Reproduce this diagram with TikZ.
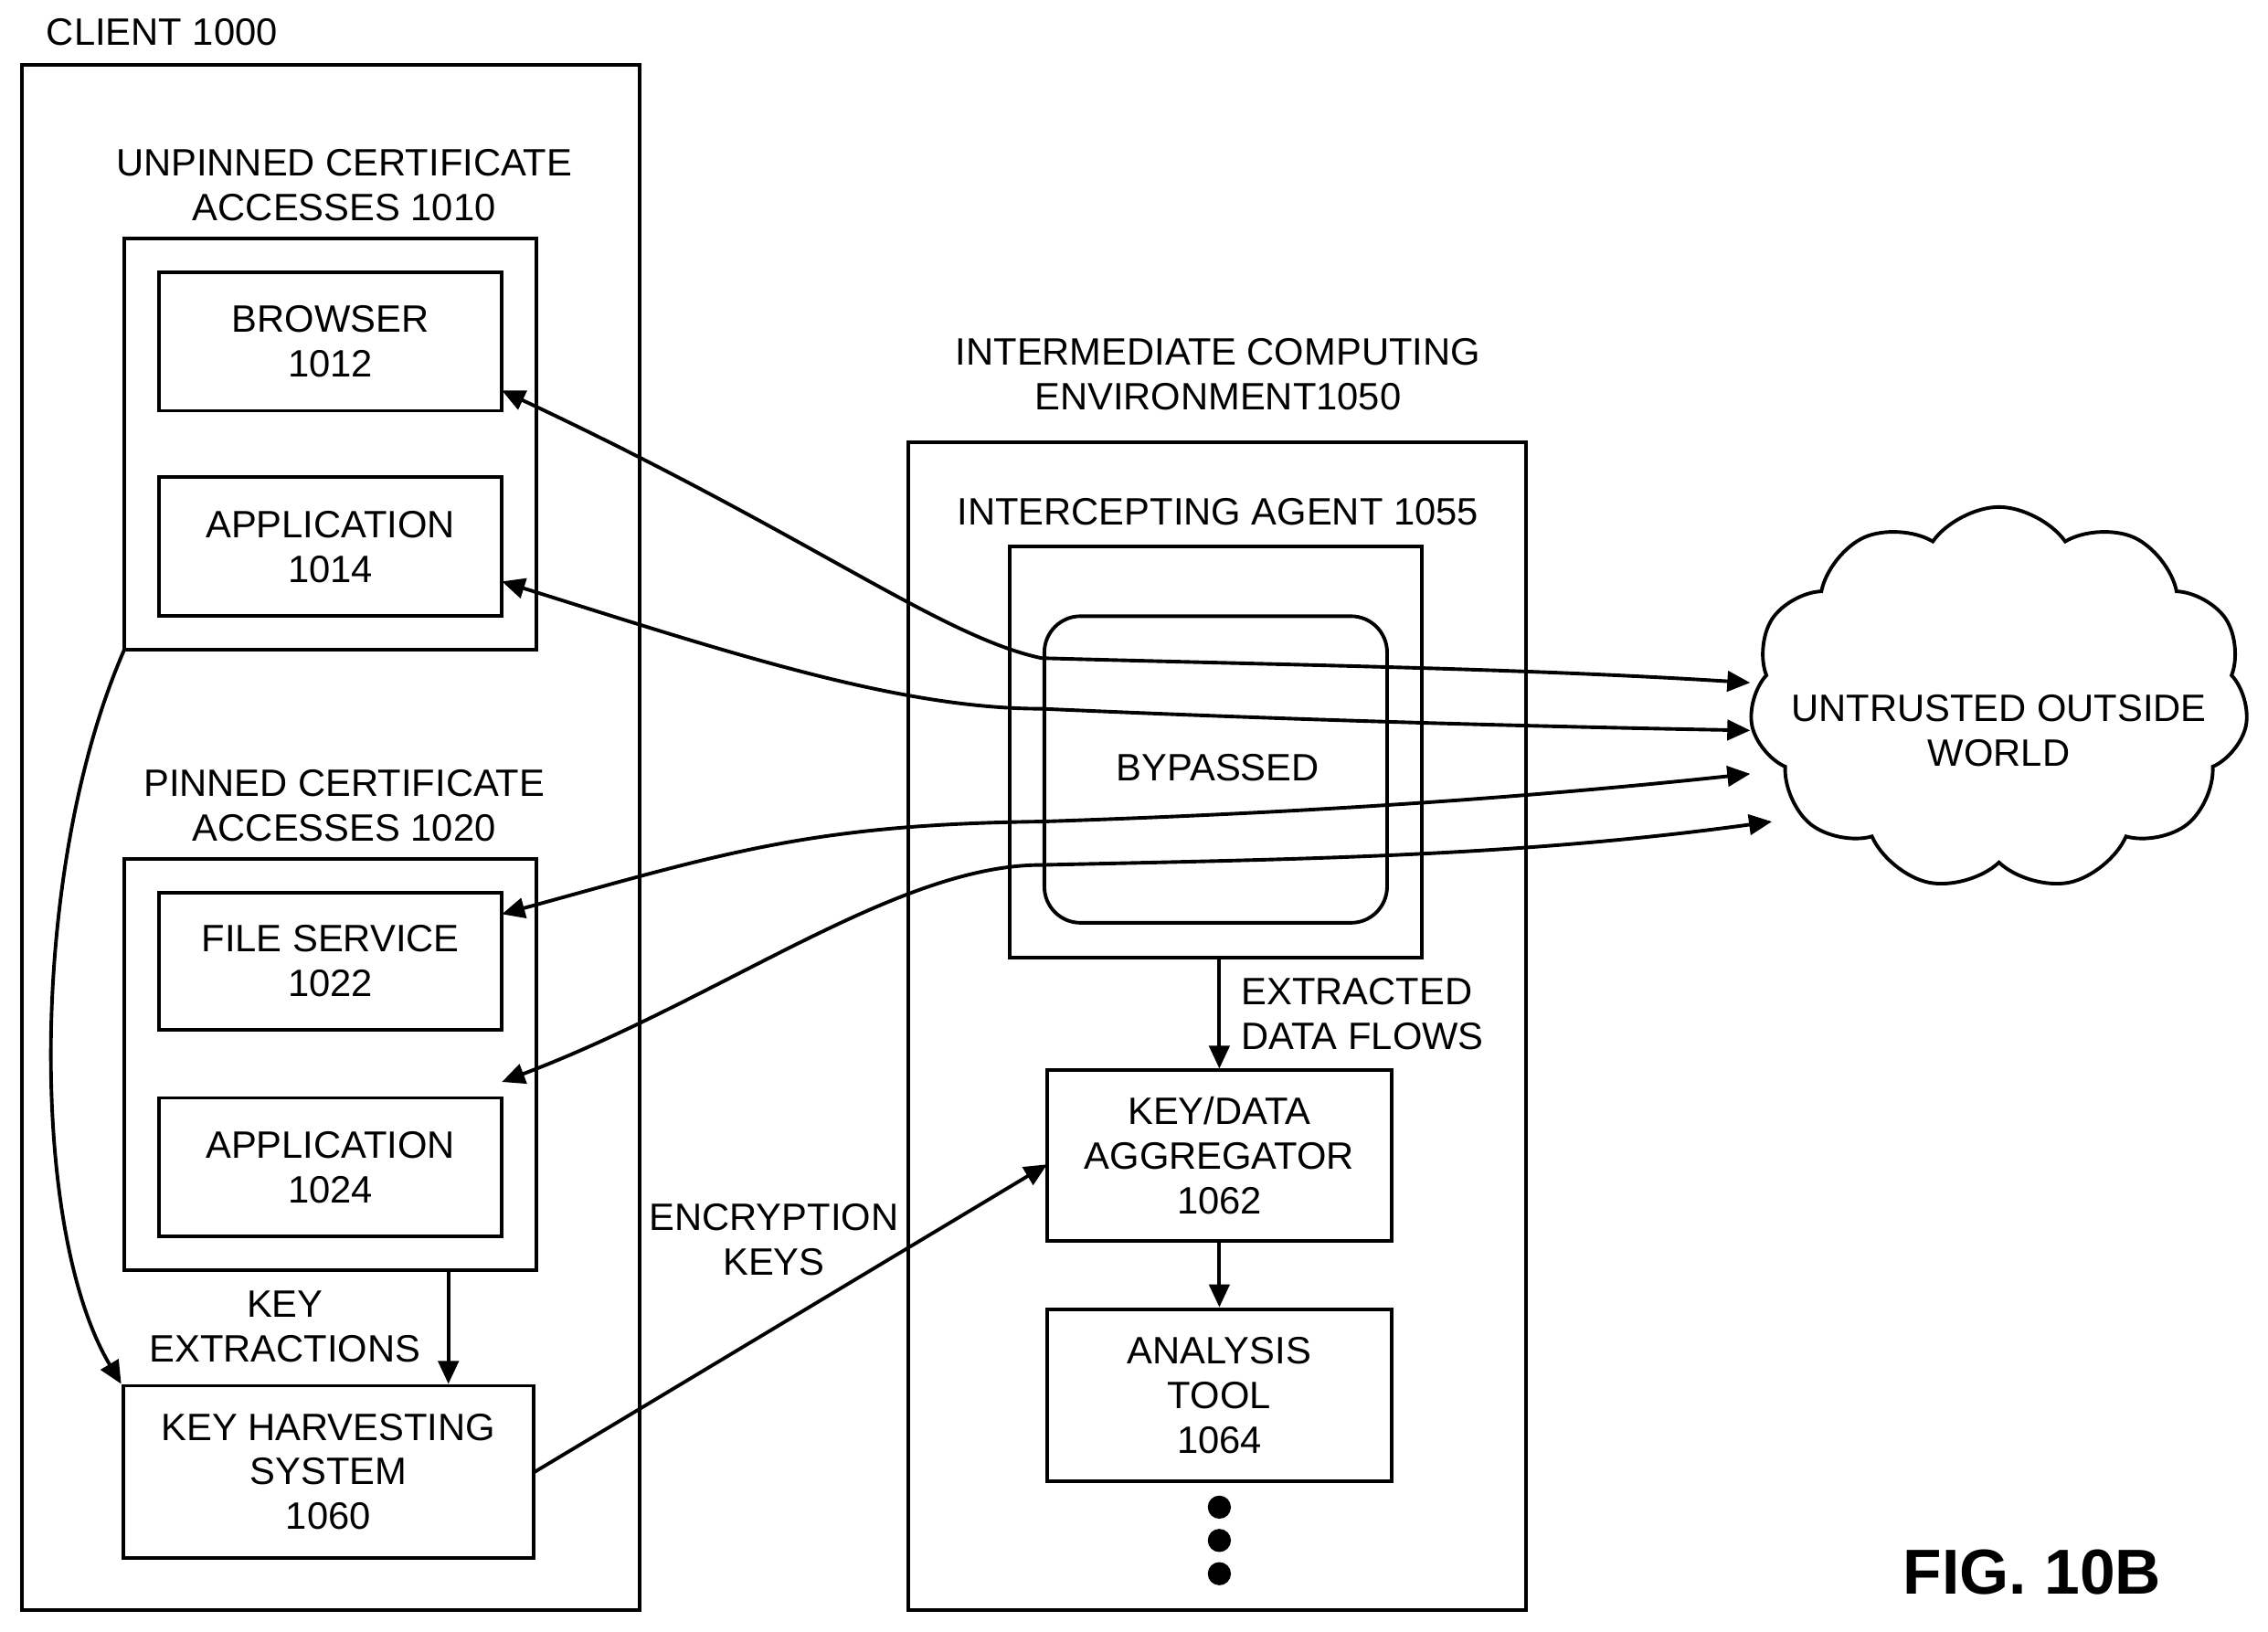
\documentclass[tikz,border=0pt]{standalone}
\usepackage{fontspec}
\setmainfont{Liberation Sans}
\usetikzlibrary{shapes.symbols,arrows.meta}
\begin{document}
\begin{tikzpicture}[x=0.02cm,y=-0.02cm,
  every node/.style={font=\fontsize{15}{17.6}\selectfont,align=center},
  box/.style={draw,line width=1.4pt},
  lbl/.style={inner sep=0pt},
  arr/.style={line width=1.4pt,-{Triangle[length=9pt,width=8pt]}},
  barr/.style={line width=1.4pt,{Triangle[length=9pt,width=8pt]}-{Triangle[length=9pt,width=8pt]}}]
\useasboundingbox (0,0) rectangle (1568,1128);
% client
\node[lbl] (clientl) at (112,22) {CLIENT 1000};
\draw[box] (15,45) rectangle (442,1113);
\node[lbl] (unl) at (238,128) {UNPINNED CERTIFICATE\\ACCESSES 1010};
\draw[box] (86,165) rectangle (371,449);
\node[box,minimum width=4.74cm,minimum height=1.92cm] (br) at (228.5,236) {BROWSER\\1012};
\node[box,minimum width=4.74cm,minimum height=1.92cm] (a14) at (228.5,378) {APPLICATION\\1014};
\node[lbl] (pinl) at (238,557) {PINNED CERTIFICATE\\ACCESSES 1020};
\draw[box] (86,594) rectangle (371,878);
\coordinate (pinbot) at (310,878);
\coordinate (unbl) at (86,449);
\node[box,minimum width=4.74cm,minimum height=1.9cm] (fs) at (228.5,664.5) {FILE SERVICE\\1022};
\node[box,minimum width=4.74cm,minimum height=1.92cm] (a24) at (228.5,807) {APPLICATION\\1024};
\node[lbl] (kel) at (197,917) {KEY\\EXTRACTIONS};
\node[box,minimum width=5.68cm,minimum height=2.38cm] (khs) at (227,1017.5) {KEY HARVESTING\\SYSTEM\\1060};
\draw[arr] (pinbot) -- (pinbot|-khs.north);
\draw[arr] (unbl) .. controls (20,600) and (20,850) .. (khs.north west);
% intermediate
\node[lbl] (iel) at (842,259) {INTERMEDIATE COMPUTING\\ENVIRONMENT1050};
\draw[box] (628,306) rectangle (1055,1113);
\node[lbl] (ial) at (842,354) {INTERCEPTING AGENT 1055};
\node[box,minimum width=5.7cm,minimum height=5.68cm] (ia) at (840.5,520) {};
\node[draw,line width=1.4pt,rounded corners=0.5cm,minimum width=4.74cm,minimum height=4.24cm] (byp) at (840.5,532) {};
\node[lbl] (bypl) at (842,531) {BYPASSED};
\node[lbl,align=left,anchor=west] (edf) at (858,701) {EXTRACTED\\DATA FLOWS};
\node[box,minimum width=4.76cm,minimum height=2.36cm] (agg) at (843,799) {KEY/DATA\\AGGREGATOR\\1062};
\node[box,minimum width=4.76cm,minimum height=2.38cm] (at) at (843,964.5) {ANALYSIS\\TOOL\\1064};
\draw[arr] (ia.south-|agg.north) -- (agg.north);
\draw[arr] (agg.south) -- (at.north);
\foreach \yy/\n in {1042/d1,1065/d2,1088/d3}{\fill (843,\yy) circle (0.16cm);}
\node[lbl] (ekl) at (535,857) {ENCRYPTION\\KEYS};
\coordinate (khsr) at (369,1018);
\coordinate (aggl) at (724,805);
\draw[arr] (khsr) -- (aggl);
% cloud
\node[cloud,draw,line width=1.4pt,cloud puffs=11,cloud puff arc=110,aspect=1.35,minimum width=6.9cm,minimum height=5.3cm] (cl) at (1382,483) {};
\node[lbl] (cll) at (1382,505) {UNTRUSTED OUTSIDE\\WORLD};
\coordinate (c1) at (1210,472);
\coordinate (c2) at (1210,505);
\coordinate (c3) at (1210,535);
\coordinate (c4) at (1225,568);
\coordinate (b1) at (347,270);
\coordinate (b2) at (347,402);
\coordinate (b3) at (347,632);
\coordinate (b4) at (347,748);
\draw[barr] (b1) .. controls (560,370) and (650,440) .. (720,455) .. controls (900,460) and (1050,462) .. (c1);
\draw[barr] (b2) .. controls (500,450) and (620,490) .. (720,490) .. controls (900,498) and (1050,502) .. (c2);
\draw[barr] (b3) .. controls (500,590) and (560,570) .. (720,568) .. controls (900,562) and (1050,552) .. (c3);
\draw[barr] (b4) .. controls (500,690) and (620,598) .. (720,598) .. controls (900,594) and (1050,592) .. (c4);
\node[lbl,font=\fontsize{25}{28}\selectfont\bfseries] (fig) at (1405,1087) {FIG. 10B};
\end{tikzpicture}
\end{document}
